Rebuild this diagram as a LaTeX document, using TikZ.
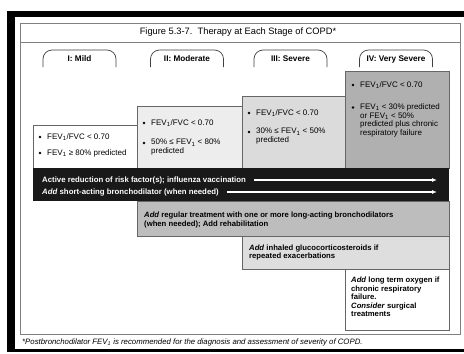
\documentclass[tikz,border=0pt]{standalone}
\usepackage{fontspec}
\setmainfont{Liberation Sans}
\usetikzlibrary{arrows.meta}
\newcommand{\fevone}{FEV\textsubscript{1}}
\tikzset{
  boxline/.style={draw=black!60,line width=.6pt},
  tabline/.style={draw=black!75,line width=.7pt,rounded corners=9pt},
  txt/.style={anchor=west,inner sep=0pt,align=left,font=\fontsize{8}{8.6}\selectfont},
  btxt/.style={txt,font=\fontsize{7.7}{8.6}\selectfont\bfseries},
  wtxt/.style={btxt,text=white,font=\fontsize{7.8}{8.6}\selectfont\bfseries},
  warrow/.style={white,line width=1.1pt,-{Latex[length=5pt,width=4pt]},shorten <=8pt},
}
\begin{document}
\begin{tikzpicture}[x=1pt,y=-1pt]
	\useasboundingbox (0,0) rectangle (464,354);
	\fill (7,11) rectangle (464,352);
	\fill[white] (15,17) rectangle (464,349);
	\draw[black!50,line width=.6pt] (20,23) rectangle (460,334) (20,42) -- (460,42);
	\node[font=\fontsize{9.3}{10}\selectfont] (title) at (238,32) {Figure 5.3-7.\ \ Therapy at Each Stage of COPD*};
	\foreach \cx/\lab/\n in {79.5/I: Mild/s1,187/II: Moderate/s2,290.5/III: Severe/s3,396/IV: Very Severe/s4}{
		\draw[tabline] (\cx-36.5,67) -- (\cx-36.5,50) -- (\cx+36.5,50) -- (\cx+36.5,67);
		\node[font=\fontsize{8.2}{9}\selectfont\bfseries] (\n) at (\cx,59) {\lab};
	}
	\path[boxline,fill=white] (33,125) rectangle (137,168);
	\path[boxline,fill=black!7] (137,106) rectangle (242,168);
	\path[boxline,fill=black!14] (242,96) rectangle (345,168);
	\path[boxline,fill=black!31] (345,71) rectangle (449,168);
	\fill[black!90] (33,168) rectangle (449,201);
	\path[boxline,fill=black!26] (137,201) rectangle (449,236);
	\path[boxline,fill=black!13] (242,236) rectangle (449,269);
	\path[boxline,fill=white] (345,269) rectangle (449,330);
	\foreach \x/\y in {40/137,40/153,144/123,144/143,249/113,249/132,353/85,353/107.5} \fill (\x,\y) circle (1.3);
	\node[txt] (m1) at (47,137) {\fevone/FVC < 0.70};
	\node[txt] (m2) at (47,153) {\fevone{} ≥ 80\% predicted};
	\node[txt] (d1) at (151,123) {\fevone/FVC < 0.70};
	\node[txt] (d2) at (151,147.3) {50\% ≤ \fevone{} < 80\%\\predicted};
	\node[txt] (e1) at (256,113) {\fevone/FVC < 0.70};
	\node[txt] (e2) at (256,136.3) {30\% ≤ \fevone{} < 50\%\\predicted};
	\node[txt] (v1) at (360,85) {\fevone/FVC < 0.70};
	\node[txt] (v2) at (360,120.4) {\fevone{} < 30\% predicted\\or \fevone{} < 50\%\\predicted plus chronic\\respiratory failure};
	\path (437,180) coordinate (a1) (437,192) coordinate (a2);
	\node[wtxt] (act) at (42,180) {Active reduction of risk factor(s); influenza vaccination};
	\node[wtxt] (sab) at (42,192) {\textit{Add} short-acting bronchodilator (when needed)};
	\draw[warrow] (act.east) -- (a1);
	\draw[warrow] (sab.east) -- (a2);
	\node[btxt] (lab) at (144,220) {\textit{Add} regular treatment with one or more long-acting bronchodilators\\(when needed); Add rehabilitation};
	\node[btxt] (ics) at (249,252.5) {\textit{Add} inhaled glucocorticosteroids if\\repeated exacerbations};
	\node[btxt] (oxy) at (351,297) {\textit{Add} long term oxygen if\\chronic respiratory\\failure.\\\textit{Consider} surgical\\treatments};
	\node[txt,font=\fontsize{7.8}{8}\selectfont\itshape] (note) at (22,342) {*Postbronchodilator \fevone{} is recommended for the diagnosis and assessment of severity of COPD.};
\end{tikzpicture}
\end{document}
